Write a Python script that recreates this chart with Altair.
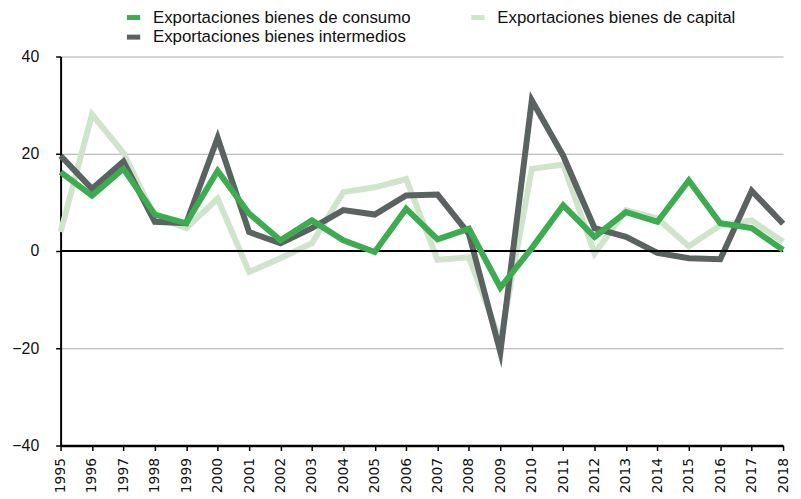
import altair as alt
import pandas as pd

years = list(range(1995, 2019))
consumo = [16.2, 11.4, 16.9, 7.5, 5.7, 16.5, 7.7, 2.2, 6.3, 2.2, -0.2, 8.7,
           2.4, 4.6, -7.5, 0.6, 9.4, 2.9, 8.0, 6.0, 14.5, 5.7, 4.7, 0.2]
intermedios = [19.6, 12.8, 18.4, 6.0, 5.7, 23.3, 3.9, 1.6, 4.7, 8.4, 7.5, 11.4,
               11.6, 3.5, -20.8, 31.0, 19.6, 4.7, 2.9, -0.4, -1.5, -1.7, 12.4, 5.6]
capital = [3.9, 28.1, 20.2, 7.0, 4.7, 10.8, -4.3, -1.5, 1.6, 12.1, 13.1, 14.8,
           -1.8, -1.3, -18.5, 16.9, 17.8, -0.5, 8.4, 6.7, 1.0, 5.3, 6.3, 1.9]

names = ["Exportaciones bienes de consumo",
         "Exportaciones bienes de capital",
         "Exportaciones bienes intermedios"]
colors = ["#3dab4f", "#cfe4cb", "#5b6262"]

rows = []
for n, vals in zip(names, [consumo, capital, intermedios]):
    for y, v in zip(years, vals):
        rows.append({"year": y, "value": v, "serie": n})
df = pd.DataFrame(rows)

FONT = "Liberation Sans"

color = alt.Color("serie:N", scale=alt.Scale(domain=names, range=colors),
                  legend=alt.Legend(title=None, orient="none", legendX=64, legendY=-49,
                                    columns=2, direction="horizontal",
                                    symbolType="stroke", symbolStrokeWidth=5,
                                    symbolSize=180, columnPadding=50, labelLimit=0,
                                    labelFont=FONT, labelFontSize=17,
                                    labelColor="#111", rowPadding=-3, labelOffset=10))

x = alt.X("year:Q", scale=alt.Scale(domain=[1995, 2018], nice=False, zero=False),
          axis=alt.Axis(title=None, values=years, format="d", labelAngle=-90,
                        labelAlign="right", labelBaseline="middle",
                        labelFont="DejaVu Sans", labelFontSize=14, labelColor="#111",
                        domainColor="#000", domainWidth=2.5, tickColor="#000",
                        tickSize=5, tickWidth=1.5, grid=False, labelPadding=7,
                        labelOverlap=False, labelBound=False, labelFlush=False))
y = alt.Y("value:Q", scale=alt.Scale(domain=[-40, 40], nice=False),
          axis=alt.Axis(title=None, values=[-40, -20, 0, 20, 40], grid=True,
                        gridColor="#aaaaaa", gridWidth=1,
                        labelFont=FONT, labelFontSize=16,
                        labelColor="#111", labelPadding=17,
                        domainColor="#000", domainWidth=2, tickColor="#000",
                        tickSize=5, tickWidth=1.5))

base = alt.Chart(df)
layers = []
for n in [names[1], names[2], names[0]]:
    layers.append(base.transform_filter(alt.datum.serie == n)
                  .mark_line(strokeWidth=6, strokeJoin="miter", strokeMiterLimit=10)
                  .encode(x=x, y=y, color=color))

zero = alt.Chart(pd.DataFrame({"z": [0]})).mark_rule(color="#000", strokeWidth=2).encode(
    y=alt.Y("z:Q", scale=alt.Scale(domain=[-40, 40], nice=False)))

chart = alt.layer(layers[0], layers[1], zero, layers[2]).properties(
    width=728, height=392,
    autosize=alt.AutoSizeParams(type="none"),
    padding={"left": 53, "top": 47, "right": 10, "bottom": 50},
).configure_view(stroke=None)

chart.save("out.html", embed_options={"renderer": "svg", "actions": False})
